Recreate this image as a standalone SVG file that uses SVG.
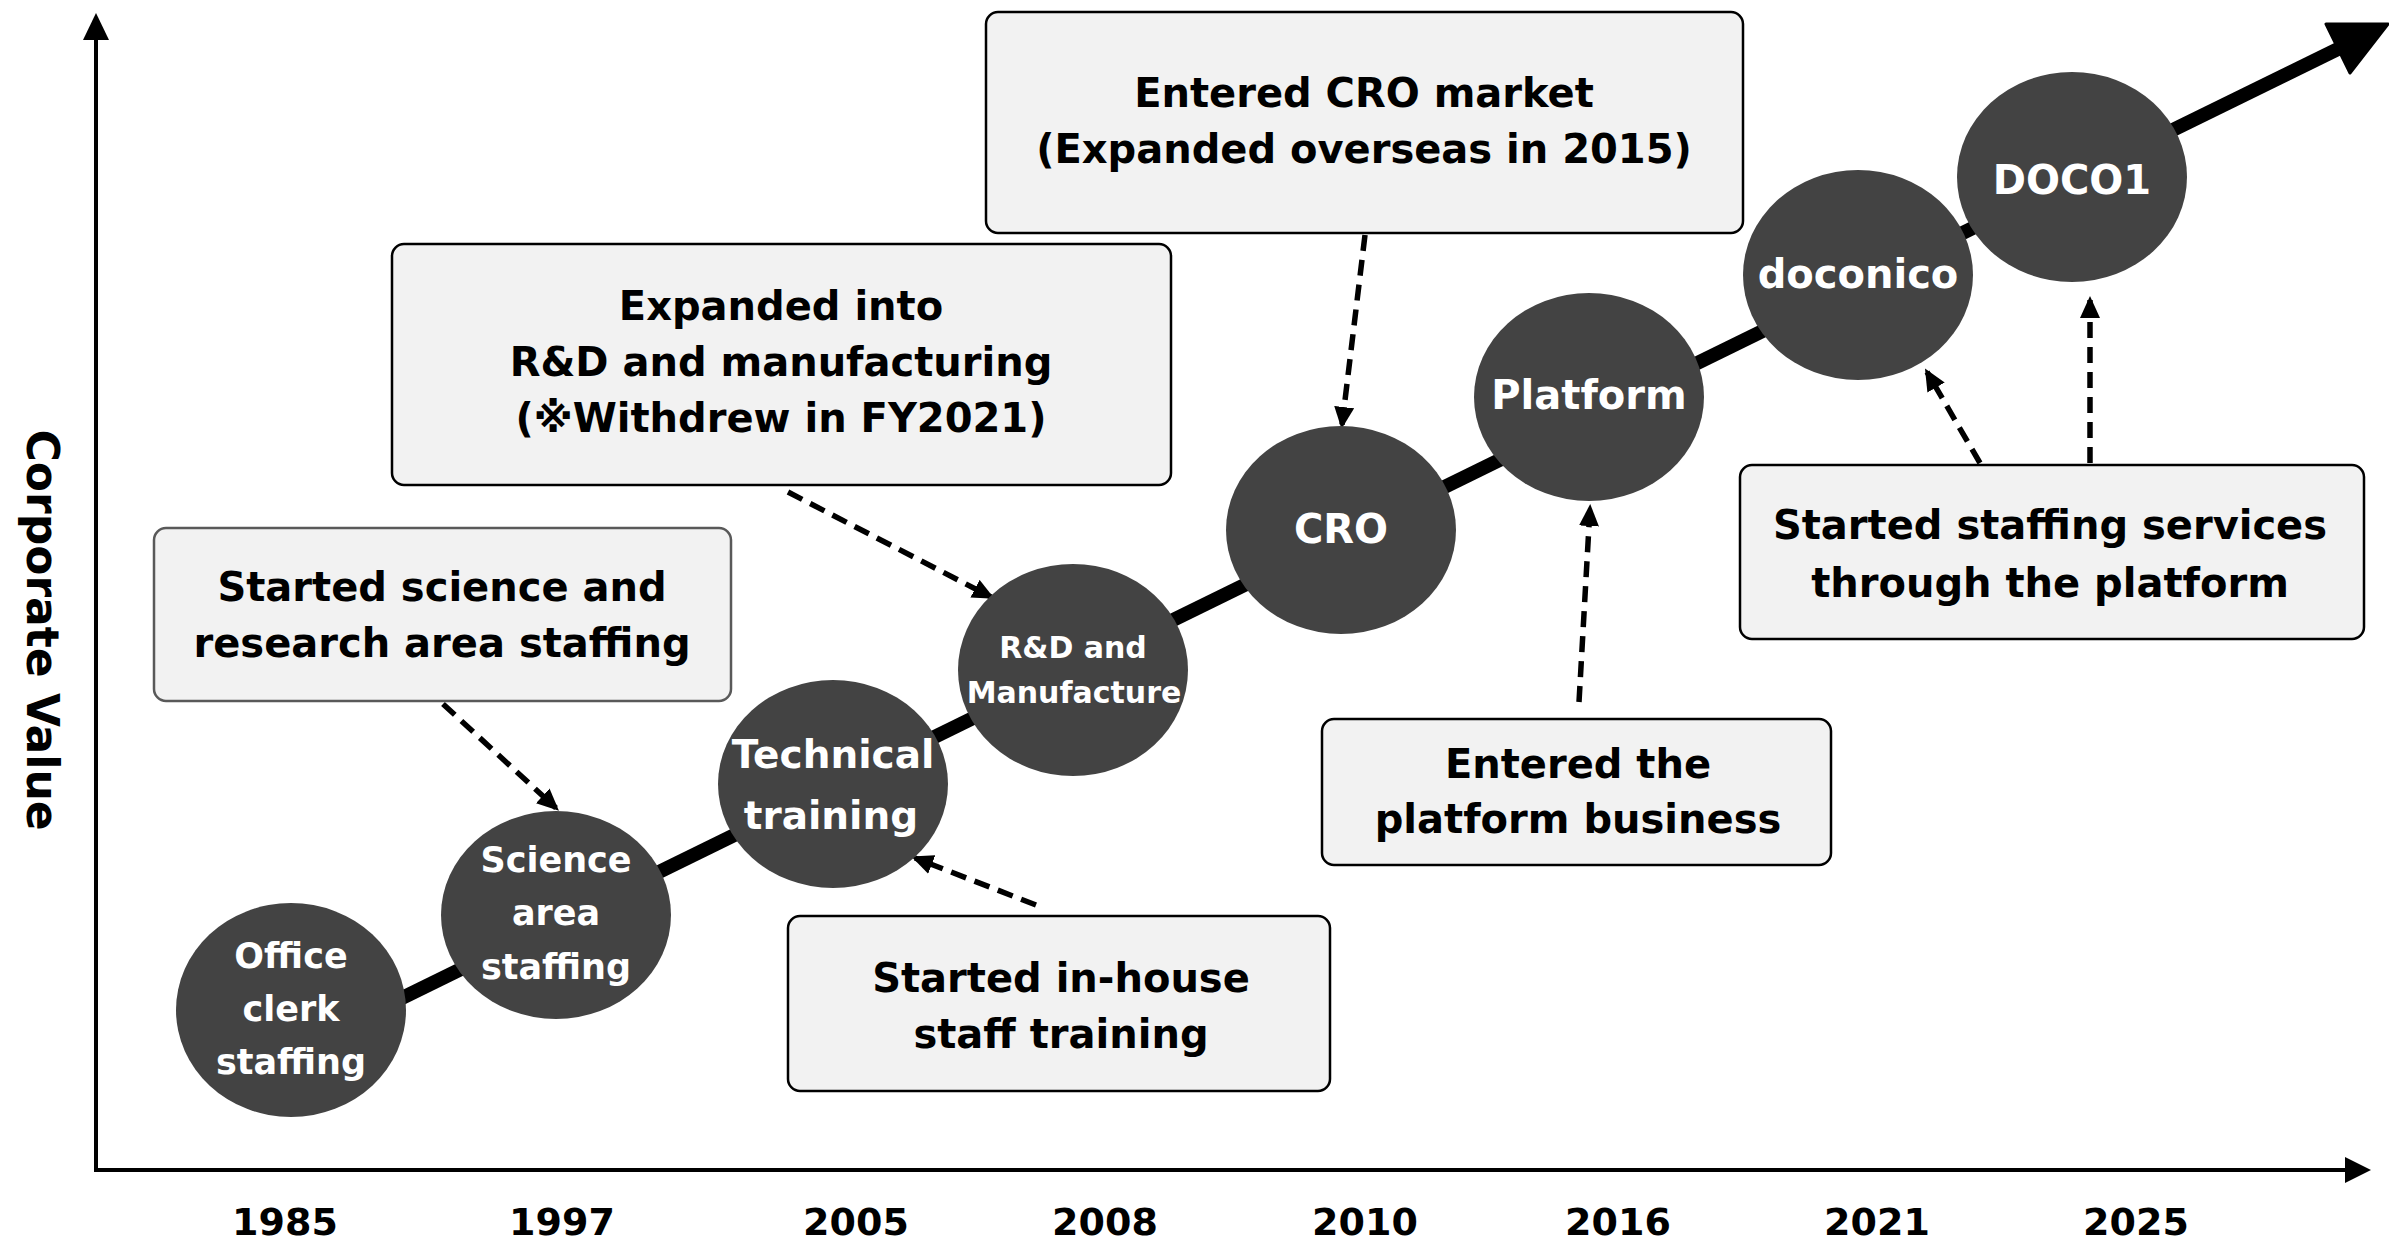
<svg xmlns="http://www.w3.org/2000/svg" width="2389" height="1241" viewBox="0 0 2389 1241">
<defs>
<style>
text{font-family:"DejaVu Sans","Liberation Sans",sans-serif;font-weight:bold;text-anchor:middle}
.box{fill:#f2f2f2;stroke:#000;stroke-width:2.5}
.box2{fill:#f2f2f2;stroke:#595959;stroke-width:2.5}
.bt{font-size:40px;fill:#000}
.node{fill:#434343}
.nt{fill:#fff}
.yr{font-size:38px;fill:#000}
.dash{fill:none;stroke:#000;stroke-width:5.5;stroke-dasharray:16 9;marker-end:url(#ah)}
.axis{stroke:#000;stroke-width:4;fill:none}
</style>
<marker id="ah" markerUnits="userSpaceOnUse" markerWidth="22" markerHeight="20" refX="18" refY="10" orient="auto" viewBox="0 0 22 20">
<path d="M0,0 L22,10 L0,20 z" fill="#000"/>
</marker>
</defs>
<rect width="2389" height="1241" fill="#fff"/>

<g id="axes">
<line class="axis" x1="96" y1="1170" x2="96" y2="38"/>
<polygon points="96,13 83,40 109,40" fill="#000"/>
<line class="axis" x1="94" y1="1170" x2="2347" y2="1170"/>
<polygon points="2371,1170 2345,1157 2345,1183" fill="#000"/>
<text x="27" y="630" font-size="44" transform="rotate(90 27 630)">Corporate Value</text>
</g>

<g id="years">
<text class="yr" x="285" y="1235">1985</text>
<text class="yr" x="562" y="1235">1997</text>
<text class="yr" x="856" y="1235">2005</text>
<text class="yr" x="1105" y="1235">2008</text>
<text class="yr" x="1365" y="1235">2010</text>
<text class="yr" x="1618" y="1235">2016</text>
<text class="yr" x="1877" y="1235">2021</text>
<text class="yr" x="2136" y="1235">2025</text>
</g>

<g id="growth-arrow">
<line x1="300" y1="1048" x2="2340" y2="48" stroke="#000" stroke-width="14"/>
<polygon points="2388,24 2350,73 2326,24" fill="#000" stroke="#000" stroke-width="3" stroke-linejoin="round"/>
</g>

<g id="connectors">
<path class="dash" d="M443,704 L556,808"/>
<path class="dash" d="M788,492 L991,597"/>
<path class="dash" d="M1365,235 L1342,425"/>
<path class="dash" d="M1036,905 L915,858"/>
<path class="dash" d="M1579,702 L1590,508"/>
<path class="dash" d="M1980,463 L1927,372"/>
<path class="dash" d="M2090,463 L2090,300"/>
</g>

<g id="node-office">
<ellipse class="node" cx="291" cy="1010" rx="115" ry="107"/>
<text class="nt" x="291" y="968" font-size="35">Office</text>
<text class="nt" x="291" y="1021" font-size="35">clerk</text>
<text class="nt" x="291" y="1074" font-size="35">staffing</text>
</g>
<g id="node-science">
<ellipse class="node" cx="556" cy="915" rx="115" ry="104"/>
<text class="nt" x="556" y="872" font-size="35">Science</text>
<text class="nt" x="556" y="925" font-size="35">area</text>
<text class="nt" x="556" y="979" font-size="35">staffing</text>
</g>
<g id="node-technical">
<ellipse class="node" cx="833" cy="784" rx="115" ry="104"/>
<text class="nt" x="833" y="768" font-size="39">Technical</text>
<text class="nt" x="831" y="829" font-size="39">training</text>
</g>
<g id="node-rd">
<ellipse class="node" cx="1073" cy="670" rx="115" ry="106"/>
<text class="nt" x="1073" y="658" font-size="30">R&amp;D and</text>
<text class="nt" x="1074" y="703" font-size="30">Manufacture</text>
</g>
<g id="node-cro">
<ellipse class="node" cx="1341" cy="530" rx="115" ry="104"/>
<text class="nt" x="1341" y="543" font-size="40">CRO</text>
</g>
<g id="node-platform">
<ellipse class="node" cx="1589" cy="397" rx="115" ry="104"/>
<text class="nt" x="1589" y="409" font-size="40">Platform</text>
</g>
<g id="node-doconico">
<ellipse class="node" cx="1858" cy="275" rx="115" ry="105"/>
<text class="nt" x="1858" y="288" font-size="40">doconico</text>
</g>
<g id="node-doco1">
<ellipse class="node" cx="2072" cy="177" rx="115" ry="105"/>
<text class="nt" x="2072" y="194" font-size="40">DOCO1</text>
</g>

<g id="box-cro">
<rect class="box" x="986" y="12" width="757" height="221" rx="12"/>
<text class="bt" x="1364" y="107">Entered CRO market</text>
<text class="bt" x="1364" y="163">(Expanded overseas in 2015)</text>
</g>
<g id="box-rd">
<rect class="box" x="392" y="244" width="779" height="241" rx="12"/>
<text class="bt" x="781" y="320">Expanded into</text>
<text class="bt" x="781" y="376">R&amp;D and manufacturing</text>
<text class="bt" x="781" y="432">(※Withdrew in FY2021)</text>
</g>
<g id="box-science">
<rect class="box2" x="154" y="528" width="577" height="173" rx="12"/>
<text class="bt" x="442" y="601">Started science and</text>
<text class="bt" x="442" y="657">research area staffing</text>
</g>
<g id="box-training">
<rect class="box" x="788" y="916" width="542" height="175" rx="12"/>
<text class="bt" x="1061" y="992">Started in-house</text>
<text class="bt" x="1061" y="1048">staff training</text>
</g>
<g id="box-platform">
<rect class="box" x="1322" y="719" width="509" height="146" rx="12"/>
<text class="bt" x="1578" y="778">Entered the</text>
<text class="bt" x="1578" y="833">platform business</text>
</g>
<g id="box-staffing">
<rect class="box" x="1740" y="465" width="624" height="174" rx="12"/>
<text class="bt" x="2050" y="539">Started staffing services</text>
<text class="bt" x="2050" y="597">through the platform</text>
</g>
</svg>
